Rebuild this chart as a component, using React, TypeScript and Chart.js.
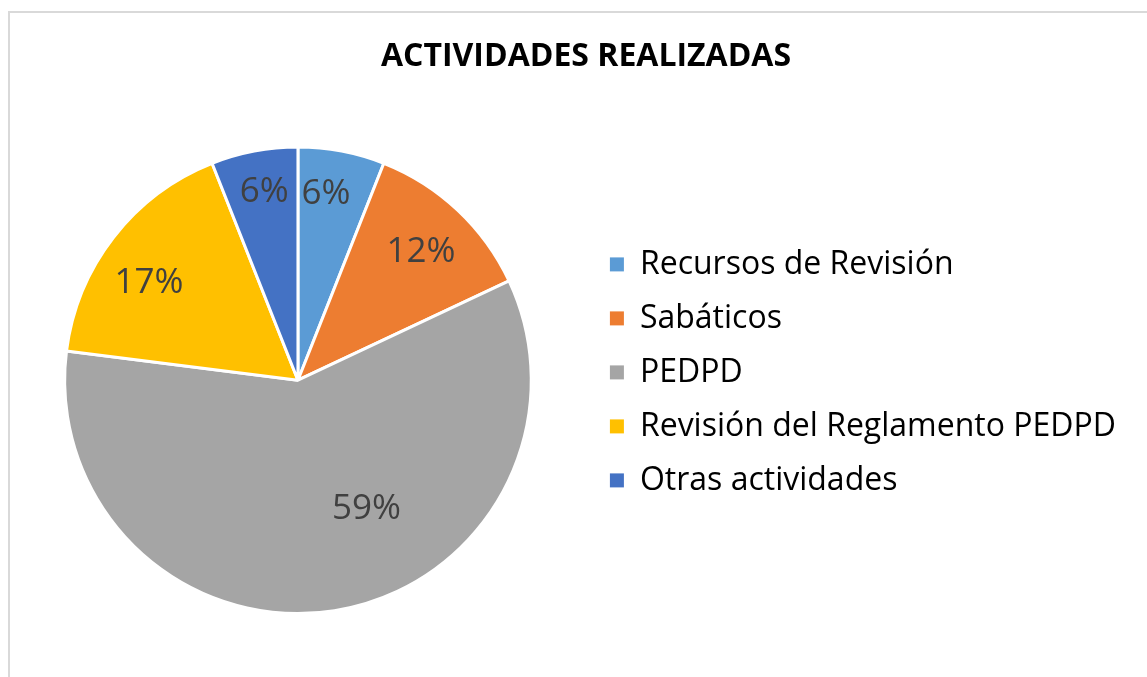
import React, { useEffect, useRef } from 'react';
import { Chart, registerables } from 'chart.js';

Chart.register(...registerables);

// ---- data ----
const TITLE = 'ACTIVIDADES REALIZADAS';
const CATEGORIES = [
  'Recursos de Revisión',
  'Sabáticos',
  'PEDPD',
  'Revisión del Reglamento PEDPD',
  'Otras actividades',
];
const PERCENTAGES = [6, 12, 59, 17, 6];
const COLORS = ['#5B9BD5', '#ED7D31', '#A5A5A5', '#FFC000', '#4472C4'];

// ---- layout / style ----
const W = 1147;
const H = 677;
const FONT = "'Open Sans', 'Noto Sans', sans-serif";
const PIE_CX = 298;
const CHART_RIGHT = 588;
const TITLE_CX = 586;
const LABEL_RADIUS = [0.82, 0.77, 0.615, 0.77, 0.83];
const LABEL_ANGLE_SHIFT_DEG = [-2.4, 0, -19.5, -3.8, 0.8];
const LABEL_TEXT_DY = 3;

const frame = {
  id: 'frame',
  beforeDraw(chart: any) {
    const ctx = chart.ctx;
    ctx.save();
    ctx.fillStyle = '#ffffff';
    ctx.fillRect(0, 0, chart.width, chart.height);
    ctx.strokeStyle = '#D9D9D9';
    ctx.lineWidth = 2;
    ctx.strokeRect(9, 12, chart.width + 50, chart.height + 50);
    ctx.restore();
  },
};

const titleShift = {
  id: 'titleShift',
  afterLayout(chart: any) {
    const tb = chart.titleBlock;
    if (!tb) return;
    const shift = TITLE_CX - (tb.left + tb.right) / 2;
    tb.left += shift;
    tb.right += shift;
  },
};

const dataLabels = {
  id: 'dataLabels',
  afterDatasetsDraw(chart: any) {
    const ctx = chart.ctx;
    const meta = chart.getDatasetMeta(0);
    ctx.save();
    ctx.font = `35px ${FONT}`;
    ctx.fillStyle = '#404040';
    ctx.textAlign = 'center';
    ctx.textBaseline = 'middle';
    meta.data.forEach((arc: any, i: number) => {
      const { x, y, startAngle, endAngle, outerRadius } = arc.getProps(
        ['x', 'y', 'startAngle', 'endAngle', 'outerRadius'],
        true
      );
      const mid = (startAngle + endAngle) / 2 + (LABEL_ANGLE_SHIFT_DEG[i] * Math.PI) / 180;
      const r = outerRadius * LABEL_RADIUS[i];
      ctx.fillText(
        `${PERCENTAGES[i]}%`,
        x + Math.cos(mid) * r,
        y + Math.sin(mid) * r + LABEL_TEXT_DY
      );
    });
    ctx.restore();
  },
};

const baseGenerateLabels = (chart: any) => {
  const ov: any = (Chart as any).overrides;
  const gen =
    ov?.pie?.plugins?.legend?.labels?.generateLabels ||
    ov?.doughnut?.plugins?.legend?.labels?.generateLabels;
  return gen(chart).map((l: any) => ({ ...l, lineWidth: 0, strokeStyle: 'transparent' }));
};

const makeOptions = (padRight: number): any => ({
  responsive: false,
  animation: false,
  layout: {
    padding: { left: 2 * PIE_CX - CHART_RIGHT, right: padRight, top: 0, bottom: 62 },
  },
  plugins: {
    title: {
      display: true,
      text: TITLE,
      color: '#000000',
      font: { family: FONT, size: 32, weight: 'bold', lineHeight: 1.2 },
      padding: { top: 38, bottom: 69 },
    },
    legend: {
      position: 'right',
      align: 'start',
      title: {
        display: true,
        text: '',
        font: { size: 12, lineHeight: 1.2 },
        padding: { top: 212, bottom: 0 },
      },
      labels: {
        boxWidth: 14,
        boxHeight: 14,
        padding: 22,
        color: '#000000',
        font: { family: FONT, size: 32 },
        generateLabels: baseGenerateLabels,
      },
    },
    tooltip: { enabled: false },
  },
});

export default function App() {
  const canvasRef = useRef<HTMLCanvasElement | null>(null);

  useEffect(() => {
    if (!canvasRef.current) return;
    const initialPad = 21;
    const chart = new Chart(canvasRef.current, {
      type: 'pie',
      data: {
        labels: CATEGORIES,
        datasets: [
          {
            data: PERCENTAGES,
            backgroundColor: COLORS,
            borderColor: '#ffffff',
            borderWidth: 3,
          },
        ],
      },
      options: makeOptions(initialPad),
      plugins: [frame, titleShift, dataLabels],
    });
    const lw = (chart as any).legend?.width ?? 0;
    const pr = W - CHART_RIGHT - lw;
    if (lw > 0 && Math.abs(pr - initialPad) > 0.5) {
      chart.options = makeOptions(pr);
      chart.update();
    }
    return () => chart.destroy();
  }, []);

  return (
    <div
      style={{
        position: 'absolute',
        left: 0,
        top: 0,
        width: W,
        height: H,
        overflow: 'hidden',
        background: '#ffffff',
      }}
    >
      <canvas ref={canvasRef} width={W} height={H} style={{ display: 'block' }} />
    </div>
  );
}
